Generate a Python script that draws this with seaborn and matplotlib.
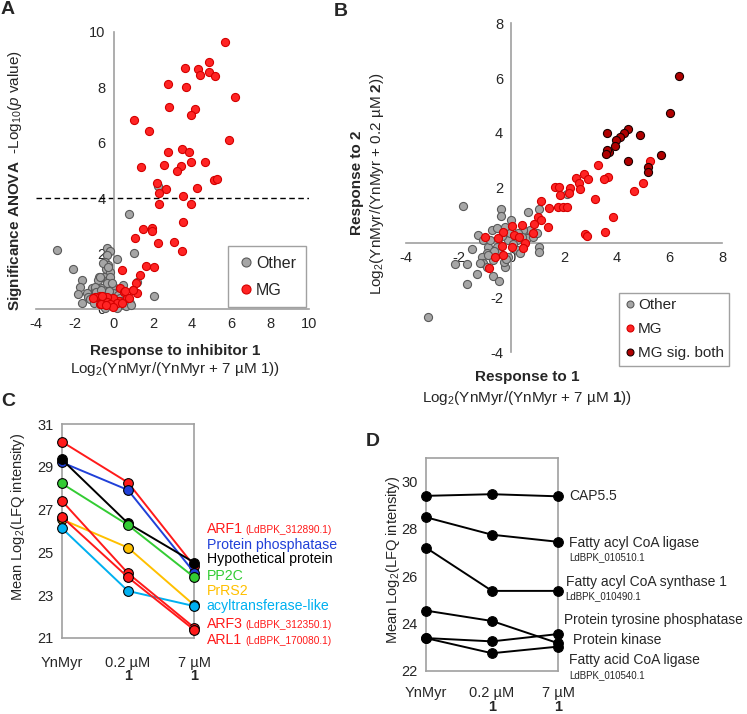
import numpy as np
import pandas as pd
import matplotlib
matplotlib.use("Agg")
import matplotlib.pyplot as plt
import seaborn as sns
from matplotlib.lines import Line2D

sns.set_style("white")
plt.rcParams['font.family'] = ['Liberation Sans', 'DejaVu Sans']
plt.rcParams['mathtext.fontset'] = 'custom'
plt.rcParams['mathtext.rm'] = 'Liberation Sans'
plt.rcParams['mathtext.bf'] = 'Liberation Sans:bold'
plt.rcParams['mathtext.it'] = 'Liberation Sans:italic'
plt.rcParams['axes.unicode_minus'] = False

# ---------------- Panel A data ----------------
a_mg_x = [5.69, 4.88, 3.64, 4.32, 4.41, 4.88, 5.19, 2.77, 3.67, 6.21, 2.84, 4.17, 3.96, 1.03,
          1.82, 5.87, 3.50, 3.84, 2.77, 4.66, 3.93, 2.57, 3.42, 1.41, 3.25, 5.12, 5.28, 2.21,
          2.67, 4.27, 2.31, 3.52, 2.31, 3.95, 3.52, 1.51, 1.95, 1.93, 1.10, 3.08, 2.24, 3.49,
          1.63, 2.04, 0.40, 1.34, 1.15, 0.31, 0.52, 0.96, 1.20, 0.66, 0.28, -0.03, -0.37,
          -0.71, -0.96, -0.54, -0.28, -0.71, 0.02, -0.37, 0.57, 0.99, 0.77, -1.05, -0.62,
          0.17, -0.20, -0.68, -0.03, -0.40, 0.40]
a_mg_y = [9.62, 8.92, 8.68, 8.64, 8.44, 8.56, 8.40, 8.11, 8.02, 7.63, 7.27, 7.20, 7.00, 6.81,
          6.43, 6.09, 5.78, 5.67, 5.65, 5.31, 5.30, 5.18, 5.16, 5.11, 4.99, 4.65, 4.68, 4.53,
          4.31, 4.35, 4.17, 4.07, 3.79, 3.79, 3.13, 2.87, 2.93, 2.81, 2.55, 2.40, 2.37, 2.10,
          1.56, 1.50, 1.41, 1.23, 0.95, 0.75, 0.63, 0.69, 0.56, 0.38, 0.29, 0.38, 0.44,
          0.48, 0.42, 0.32, 0.18, 0.18, 0.14, 0.26, 0.65, 0.68, 0.38, 0.38, 0.47,
          0.23, 0.18, 0.18, 0.08, 0.14, 0.23]
a_other_x = [-2.93, -2.08, -1.65, -1.73, -1.82, -1.62, -0.34, -0.20, -0.37, 0.14, -0.46, -0.29,
             -0.40, -0.20, -0.51, -0.75, -0.29, -0.80, -1.14, -0.97, -1.39, 0.76, 1.04, 2.07,
             1.16, 0.82, 0.57, 0.23, 0.06, -0.11, -0.62, -0.03, -0.46, -0.88, 0.40, 0.23,
             2.28, -0.54, -0.28, -0.71, -0.20, -0.37, -0.96, -1.31, -0.60, -0.30, 0.10, 0.30,
             -0.15, 0.05, -0.50, 0.50, 0.70, -0.80, -1.20, -0.90, 0.45, -0.10, -0.25, 0.35,
             0.60, -0.65, -1.00, 0.15, -0.45, 0.90]
a_other_y = [2.13, 1.44, 1.05, 0.78, 0.54, 0.21, 2.21, 2.09, 1.95, 1.80, 1.71, 1.59,
             1.43, 1.35, 1.16, 1.16, 1.05, 1.05, 0.75, 0.69, 0.57, 3.42, 2.03, 0.48,
             0.98, 0.23, 0.21, 0.11, 0.75, 0.80, 0.75, 0.57, 0.57, 0.50, 0.50, 0.50,
             4.43, 1.65, 1.53, 1.17, 1.17, 0.93, 0.81, 0.44, 0.30, 0.25, 0.30, 0.40,
             0.45, 0.15, 0.10, 0.15, 0.40, 0.30, 0.35, 0.60, 0.85, 0.95, 0.65, 0.30,
             0.10, 0.70, 0.20, 0.05, 0.05, 0.15]

# ---------------- Panel B data ----------------
b_sig_x = [6.34, 6.02, 4.43, 4.28, 4.12, 3.95, 3.64, 4.88, 3.94, 3.71, 3.61, 3.59, 5.66, 4.41, 5.19, 5.17]
b_sig_y = [6.08, 4.72, 4.15, 4.01, 3.87, 3.74, 3.99, 3.91, 3.54, 3.31, 3.38, 3.22, 3.20, 2.97, 2.75, 2.58]
b_mg_x = [5.26, 3.27, 2.75, 2.44, 2.92, 3.65, 3.52, 2.58, 2.22, 2.20, 2.60, 1.65, 1.82, 1.84, 5.00,
          4.66, 3.17, 1.11, 1.44, 1.78, 1.97, 2.10, 3.87, 1.02, 1.14, 1.40, 0.86, 0.39, 0.01,
          -0.31, 0.10, 0.27, 0.81, 2.79, 2.85, 3.56, -1.00, -0.50, -0.35, 0.01, 0.51, 0.43,
          -0.62, -0.33, -0.84]
b_mg_y = [2.98, 2.82, 2.50, 2.35, 2.31, 2.41, 2.31, 2.16, 1.98, 1.82, 1.96, 2.04, 2.04, 1.73, 2.19,
          1.90, 1.59, 1.51, 1.25, 1.31, 1.31, 1.31, 0.95, 0.95, 0.83, 0.58, 0.68, 0.64, 0.62,
          0.40, 0.28, 0.22, 0.34, 0.32, 0.26, 0.38, 0.22, 0.18, -0.11, -0.17, 0.00, -0.21,
          -0.51, -0.45, -0.94]
b_other_x = [-1.85, -3.18, -1.26, -1.51, -1.67, -1.70, -1.32, -2.14, -0.71, -0.46, -0.40, -0.40,
             -0.03, 0.64, 1.06, 1.06, 1.04, 2.12, -0.75, -0.56, -0.24, -1.07, -0.88, -0.94,
             -1.13, -1.07, -0.94, -0.24, -0.30, -0.69, -0.12, 0.20, 0.32, 0.20, 0.58, 0.70,
             0.45, 0.26, -0.12, -0.56, -0.81, -0.50, -0.05, 0.83, 0.96, -1.19, -0.35, 0.05,
             -0.65, 0.40, -0.20, -0.90]
b_other_y = [1.34, -2.72, 0.28, -0.24, -0.78, -1.52, -1.14, -0.78, -1.22, -1.39, 1.22, 0.97,
             0.83, 1.13, 1.22, -0.15, -0.35, 1.76, 0.46, 0.52, 0.58, 0.10, -0.15, -0.39,
             -0.51, -0.75, -0.88, -0.88, -0.69, -0.63, -0.51, -0.27, -0.39, 0.10, 0.16, 0.46,
             0.46, 0.34, 0.10, -0.15, 0.10, -0.39, 0.34, 0.22, 0.34, -0.75, 0.25, -0.05,
             -0.30, 0.20, -0.60, -0.45]

# ---------------- Panel C data ----------------
c_conditions = ["YnMyr", "0.2 µM", "7 µM"]
c_proteins = ["ARF1", "Protein phosphatase", "Hypothetical protein", "PP2C", "PrRS2",
              "acyltransferase-like", "ARF3", "ARL1"]
c_values = {
    "ARF1": [30.19, 28.27, 24.35],
    "Protein phosphatase": [29.22, 27.92, 24.05],
    "Hypothetical protein": [29.36, 26.36, 24.52],
    "PP2C": [28.23, 26.28, 23.83],
    "PrRS2": [26.55, 25.22, 22.52],
    "acyltransferase-like": [26.14, 23.19, 22.48],
    "ARF3": [27.42, 24.02, 21.47],
    "ARL1": [26.67, 23.83, 21.36],
}
c_colors = {"ARF1": "#ff1a1a", "Protein phosphatase": "#2040d8", "Hypothetical protein": "#000000",
            "PP2C": "#33cc33", "PrRS2": "#ffc000", "acyltransferase-like": "#00b0f0",
            "ARF3": "#ff1a1a", "ARL1": "#ff1a1a"}

# ---------------- Panel D data ----------------
d_proteins = ["CAP5.5", "Fatty acyl CoA ligase", "Fatty acyl CoA synthase 1",
              "Protein tyrosine phosphatase", "Protein kinase", "Fatty acid CoA ligase"]
d_values = {
    "CAP5.5": [29.39, 29.46, 29.37],
    "Fatty acyl CoA ligase": [28.49, 27.75, 27.45],
    "Fatty acyl CoA synthase 1": [27.21, 25.38, 25.38],
    "Protein tyrosine phosphatase": [24.55, 24.11, 23.17],
    "Protein kinase": [23.39, 23.25, 23.56],
    "Fatty acid CoA ligase": [23.39, 22.75, 23.03],
}

W, H = 747, 714
fig = plt.figure(figsize=(W / 100, H / 100), dpi=100)


def ax_px(x0, y0, x1, y1):
    return fig.add_axes([x0 / W, 1 - y1 / H, (x1 - x0) / W, (y1 - y0) / H])


def ftxt(x, y, s, **kw):
    kw.setdefault("ha", "center")
    kw.setdefault("va", "center")
    return fig.text(x / W, 1 - y / H, s, **kw)


SPINE = "#a0a0a0"
GRAY_FC, GRAY_EC = "#a6a6a6", "#5a5a5a"
RED_FC, RED_EC = "#ff2424", "#d40000"
DRED_FC, DRED_EC = "#b00000", "#1a0000"

# ================= Panel A =================
axA = ax_px(35.7, 31.7, 309.3, 309.0)
dfA = pd.DataFrame({
    "x": a_other_x + a_mg_x,
    "y": a_other_y + a_mg_y,
    "grp": ["Other"] * len(a_other_x) + ["MG"] * len(a_mg_x),
})
for g, fc, ec in [("Other", GRAY_FC, GRAY_EC), ("MG", RED_FC, RED_EC)]:
    sns.scatterplot(data=dfA[dfA.grp == g], x="x", y="y", ax=axA, color=fc, edgecolor=ec,
                    linewidth=0.8, s=34, clip_on=False, zorder=3, legend=False)
axA.axhline(4, color="black", ls=(0, (4, 2.5)), lw=1.0, zorder=2)
axA.set_xlim(-4, 10)
axA.set_ylim(0, 10)
axA.set_xticks(range(-4, 11, 2))
axA.set_yticks(range(0, 11, 2))
axA.spines["left"].set_position(("data", 0))
axA.spines["bottom"].set_position(("data", 0))
axA.spines["top"].set_visible(False)
axA.spines["right"].set_visible(False)
for sp in ("left", "bottom"):
    axA.spines[sp].set_color(SPINE)
    axA.spines[sp].set_linewidth(1.2)
axA.tick_params(axis="both", direction="out", length=4, width=1.0, color=SPINE,
                labelsize=10.5, pad=2)
axA.set_xlabel("")
axA.set_ylabel("")
axA.patch.set_alpha(0)
handlesA = [Line2D([], [], ls="", marker="o", ms=6.5, mfc=GRAY_FC, mec=GRAY_EC, mew=0.8),
            Line2D([], [], ls="", marker="o", ms=6.5, mfc=RED_FC, mec=RED_EC, mew=0.8)]
legA = axA.legend(handlesA, ["Other", "MG"], loc="upper left",
                  bbox_to_anchor=((228 - 35.7) / 273.6, 1 - (246 - 31.7) / 277.3),
                  frameon=True, fancybox=False, fontsize=11.5, handletextpad=0.15,
                  handlelength=1.0, borderpad=0.6, labelspacing=0.75, borderaxespad=0)
legA.get_frame().set_edgecolor("#8a8a8a")
legA.get_frame().set_linewidth(1.0)

ftxt(15, 181, r"$\mathbf{Significance\ ANOVA}$  -Log$_{10}$($\mathit{p}$ value)",
     rotation=90, fontsize=11)
ftxt(175, 351, "Response to inhibitor 1", fontsize=11, fontweight="bold")
ftxt(175, 369, r"Log$_2$(YnMyr/(YnMyr + 7 µM 1))", fontsize=11)
ftxt(8, 10, "A", fontsize=14, fontweight="bold")

# ================= Panel B =================
axB = ax_px(406, 23.3, 722.3, 352.3)
dfB = pd.DataFrame({
    "x": b_other_x + b_mg_x + b_sig_x,
    "y": b_other_y + b_mg_y + b_sig_y,
    "grp": ["Other"] * len(b_other_x) + ["MG"] * len(b_mg_x) + ["MG sig. both"] * len(b_sig_x),
})
for g, fc, ec in [("Other", GRAY_FC, GRAY_EC), ("MG", RED_FC, RED_EC), ("MG sig. both", DRED_FC, DRED_EC)]:
    sns.scatterplot(data=dfB[dfB.grp == g], x="x", y="y", ax=axB, color=fc, edgecolor=ec,
                    linewidth=0.8, s=34, clip_on=False, zorder=3, legend=False)
axB.set_xlim(-4, 8)
axB.set_ylim(-4, 8)
axB.set_xticks(range(-4, 9, 2))
axB.set_yticks(range(-4, 9, 2))
axB.spines["left"].set_position(("data", 0))
axB.spines["bottom"].set_position(("data", 0))
axB.spines["top"].set_visible(False)
axB.spines["right"].set_visible(False)
for sp in ("left", "bottom"):
    axB.spines[sp].set_color(SPINE)
    axB.spines[sp].set_linewidth(1.2)
axB.tick_params(axis="both", direction="out", length=4, width=1.0, color=SPINE,
                labelsize=10.5, pad=2)
axB.set_xlabel("")
axB.set_ylabel("")
axB.patch.set_alpha(0)
handlesB = [Line2D([], [], ls="", marker="o", ms=5, mfc=GRAY_FC, mec=GRAY_EC, mew=0.8),
            Line2D([], [], ls="", marker="o", ms=5, mfc=RED_FC, mec=RED_EC, mew=0.8),
            Line2D([], [], ls="", marker="o", ms=5, mfc=DRED_FC, mec=DRED_EC, mew=0.8)]
legB = axB.legend(handlesB, ["Other", "MG", "MG sig. both"], loc="upper left",
                  bbox_to_anchor=((618.7 - 406) / 316.3, 1 - (293 - 23.3) / 329.0),
                  frameon=True, fancybox=False, fontsize=11, handletextpad=0.1,
                  handlelength=0.8, borderpad=0.35, labelspacing=0.65, borderaxespad=0)
legB.get_frame().set_edgecolor("#8a8a8a")
legB.get_frame().set_linewidth(1.0)

ftxt(357, 183, "Response to 2", rotation=90, fontsize=11, fontweight="bold")
ftxt(377, 184, r"Log$_2$(YnMyr/(YnMyr + 0.2 µM $\mathbf{2}$))", rotation=90, fontsize=11)
ftxt(527, 377, "Response to 1", fontsize=11, fontweight="bold")
ftxt(527, 398, r"Log$_2$(YnMyr/(YnMyr + 7 µM $\mathbf{1}$))", fontsize=11)
ftxt(341, 11, "B", fontsize=14, fontweight="bold")

# ================= Panel C =================
axC = ax_px(61.7, 424.3, 194.3, 637.7)
dfC = pd.DataFrame([(p, i, v) for p in c_proteins for i, v in enumerate(c_values[p])],
                   columns=["protein", "cond", "value"])
sns.lineplot(data=dfC, x="cond", y="value", hue="protein", hue_order=c_proteins,
             palette=c_colors, marker="o", markersize=7, markeredgecolor="black",
             markeredgewidth=0.8, linewidth=1.4, ax=axC, legend=False, clip_on=False,
             zorder=3)
axC.set_xlim(0, 2)
axC.set_ylim(21, 31)
axC.set_yticks([21, 23, 25, 27, 29, 31])
axC.set_xticks([0, 1, 2])
axC.set_xticklabels(c_conditions)
for sp in axC.spines.values():
    sp.set_color(SPINE)
    sp.set_linewidth(1.2)
axC.tick_params(axis="both", direction="out", length=4, width=1.0, color=SPINE,
                labelsize=10.5, pad=2)
axC.tick_params(axis="x", pad=9)
axC.set_xlabel("")
axC.set_ylabel("")
ftxt(128.3, 676, "1", fontsize=10.5, fontweight="bold")
ftxt(194.3, 676, "1", fontsize=10.5, fontweight="bold")
ftxt(18, 517, r"Mean Log$_2$(LFQ intensity)", rotation=90, fontsize=10.5)
ftxt(8, 401, "C", fontsize=14, fontweight="bold")

c_label_y = [529, 544.5, 559.5, 576, 591, 606, 624.5, 639.5]
c_sub = {"ARF1": "(LdBPK_312890.1)", "ARF3": "(LdBPK_312350.1)", "ARL1": "(LdBPK_170080.1)"}
for p, yy in zip(c_proteins, c_label_y):
    ftxt(206.7, yy, p, ha="left", fontsize=10.2, color=c_colors[p])
    if p in c_sub:
        ftxt(245.5, yy + 1, c_sub[p], ha="left", fontsize=7.3, color=c_colors[p])

# ================= Panel D =================
axD = ax_px(425.7, 457.7, 558.3, 671.0)
dfD = pd.DataFrame([(p, i, v) for p in d_proteins for i, v in enumerate(d_values[p])],
                   columns=["protein", "cond", "value"])
sns.lineplot(data=dfD, x="cond", y="value", units="protein", estimator=None, color="black",
             marker="o", markersize=7, markeredgecolor="black", linewidth=1.4, ax=axD,
             legend=False, clip_on=False, zorder=3)
axD.set_xlim(0, 2)
axD.set_ylim(22, 31)
axD.set_yticks([22, 24, 26, 28, 30])
axD.set_xticks([0, 1, 2])
axD.set_xticklabels(c_conditions)
for sp in axD.spines.values():
    sp.set_color(SPINE)
    sp.set_linewidth(1.2)
axD.tick_params(axis="both", direction="out", length=4, width=1.0, color=SPINE,
                labelsize=10.5, pad=2)
axD.tick_params(axis="x", pad=7)
axD.set_xlabel("")
axD.set_ylabel("")
ftxt(491.7, 707, "1", fontsize=10.5, fontweight="bold")
ftxt(558.3, 707, "1", fontsize=10.5, fontweight="bold")
ftxt(393, 560, r"Mean Log$_2$(LFQ intensity)", rotation=90, fontsize=10.5)
ftxt(373, 441, "D", fontsize=14, fontweight="bold")

d_labels = [(569, 496, "CAP5.5", 10), (569, 543.3, "Fatty acyl CoA ligase", 10),
            (569, 557.5, "LdBPK_010510.1", 7), (565.7, 582.3, "Fatty acyl CoA synthase 1", 10),
            (565.7, 596.5, "LdBPK_010490.1", 7), (563.5, 620.3, "Protein tyrosine phosphatase", 9.9),
            (572.7, 640, "Protein kinase", 10), (569, 660, "Fatty acid CoA ligase", 10),
            (569, 675, "LdBPK_010540.1", 7)]
for x, y, s, fs in d_labels:
    ftxt(x, y, s, ha="left", fontsize=fs)

fig.savefig("out.png", dpi=100)
